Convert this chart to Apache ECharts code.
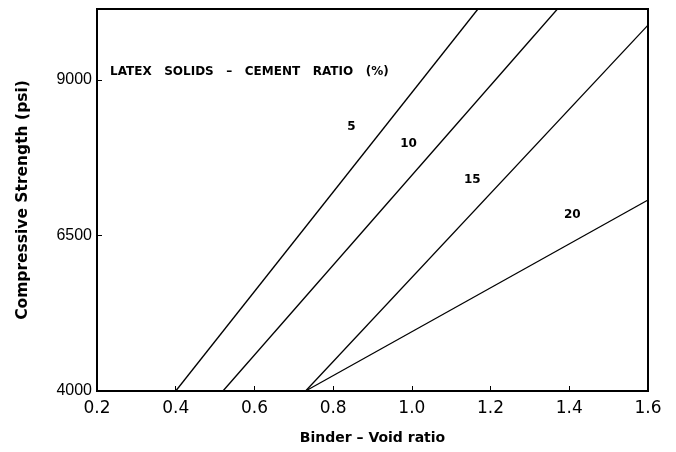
<!DOCTYPE html>
<html>
<head>
<meta charset="utf-8">
<script src="https://cdn.jsdelivr.net/npm/echarts@6/dist/echarts.min.js"></script>
<style>html,body{margin:0;padding:0;background:#fff}#c{width:676px;height:452px}</style>
</head>
<body>
<div id="c"></div>
<script>
var xTicks = [0.2, 0.4, 0.6, 0.8, 1.0, 1.2, 1.4, 1.6];
var yTicks = [4000, 6500, 9000];
var ratios = ['5', '10', '15', '20'];
var line5 = [[0.40, 4000], [1.168, 10140]];
var line10 = [[0.52, 4000], [1.37, 10140]];
var line15 = [[0.73, 4000], [1.60, 9880]];
var line20 = [[0.73, 4000], [1.60, 7070]];
var labelPos = [[0.848, 8244], [0.993, 7971], [1.155, 7392], [1.409, 6830]];
var legendTitle = 'LATEX   SOLIDS   \u2013   CEMENT   RATIO   (%)';

var chart = echarts.init(document.getElementById('c'), null, {renderer: 'canvas'});
var lines = [line5, line10, line15, line20];
var series = lines.map(function (d, i) {
  return {
    type: 'line', data: d, symbol: 'none', silent: true,
    lineStyle: {color: '#000', width: 1.3}, clip: true
  };
});
series.push({
  type: 'scatter', symbolSize: 1, silent: true,
  data: labelPos.map(function (p, i) { return {value: p, name: ratios[i]}; }),
  itemStyle: {color: 'rgba(0,0,0,0)'},
  label: {show: true, position: [0, 0], align: 'center', verticalAlign: 'middle',
    formatter: '{b}', color: '#000', opacity: 1, textBorderWidth: 0,
    fontFamily: 'DejaVu Sans', fontWeight: 'bold', fontSize: 12}
});
chart.setOption({
  animation: false,
  grid: {left: 97, right: 28, top: 9, bottom: 61, show: true, borderColor: '#000', borderWidth: 2, backgroundColor: 'transparent'},
  xAxis: {
    type: 'value', min: 0.2, max: 1.6, interval: 0.2,
    name: 'Binder \u2013 Void ratio', nameLocation: 'middle', nameGap: 40,
    nameTextStyle: {fontFamily: 'DejaVu Sans', fontWeight: 'bold', fontSize: 14, color: '#000'},
    axisLine: {show: true, lineStyle: {color: '#000', width: 2}},
    axisTick: {show: true, inside: true, length: 5, lineStyle: {color: '#000'}, customValues: xTicks},
    axisLabel: {color: '#000', fontFamily: 'DejaVu Sans', fontSize: 17, margin: 9, customValues: xTicks,
      formatter: function (v) { return v.toFixed(1); }},
    splitLine: {show: false}
  },
  yAxis: {
    type: 'value', min: 4000, max: 10140,
    name: 'Compressive Strength (psi)', nameLocation: 'middle', nameGap: 66,
    nameTextStyle: {fontFamily: 'DejaVu Sans', fontWeight: 'bold', fontSize: 15.5, color: '#000'},
    axisLine: {show: true, lineStyle: {color: '#000', width: 2}},
    axisTick: {show: true, inside: true, length: 5, lineStyle: {color: '#000'}, customValues: yTicks},
    axisLabel: {color: '#000', fontFamily: 'Liberation Sans', fontSize: 16, margin: 5, customValues: yTicks,
      formatter: function (v) { return String(v); }},
    splitLine: {show: false}
  },
  graphic: [{
    type: 'text', left: 110, top: 66,
    style: {text: legendTitle, fill: '#000', font: 'bold 12px "DejaVu Sans"'}
  }],
  series: series
});
</script>
</body>
</html>
